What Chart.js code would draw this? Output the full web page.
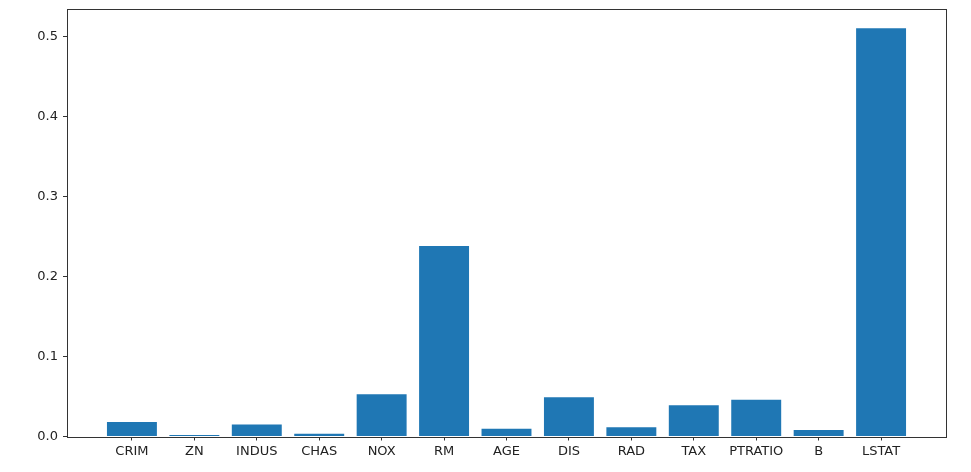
<!DOCTYPE html>
<html>
<head>
<meta charset="utf-8">
<script src="https://cdn.jsdelivr.net/npm/chart.js@4/dist/chart.umd.min.js"></script>
<style>
  html, body { margin: 0; padding: 0; background: #fff; }
  #wrap { width: 971px; height: 472px; }
</style>
</head>
<body>
<div id="wrap"><canvas id="myChart"></canvas></div>
<script>
const features = ['CRIM', 'ZN', 'INDUS', 'CHAS', 'NOX', 'RM', 'AGE', 'DIS', 'RAD', 'TAX', 'PTRATIO', 'B', 'LSTAT'];
const importance = [0.018, 0.002, 0.015, 0.0035, 0.053, 0.2385, 0.0098, 0.049, 0.0115, 0.039, 0.046, 0.008, 0.511];
const yTicks = [0, 0.1, 0.2, 0.3, 0.4, 0.5];

// outline round the plot, like the matplotlib spines
const frame = {
  id: 'frame',
  afterDraw(chart) {
    const a = chart.chartArea;
    const c = chart.ctx;
    c.save();
    c.strokeStyle = '#333';
    c.lineWidth = 1;
    c.strokeRect(Math.round(a.left) + 0.5, Math.round(a.top) + 0.5,
      Math.round(a.right - a.left), Math.round(a.bottom - a.top));
    c.restore();
  }
};

const ctx = document.getElementById('myChart');

new Chart(ctx, {
  type: 'bar',
  data: {
    datasets: [{
      data: features.map((f, i) => ({ x: i, y: importance[i] })),
      backgroundColor: '#1f77b4',
      barPercentage: 0.8,
      categoryPercentage: 1.0
    }]
  },
  options: {
    responsive: true,
    maintainAspectRatio: false,
    animation: false,
    layout: { padding: { top: 9, right: 25, left: 0, bottom: 0 } },
    plugins: { legend: { display: false }, tooltip: { enabled: false } },
    scales: {
      x: {
        type: 'linear',
        min: -1.04,
        max: 13.04,
        offset: false,
        afterFit: (s) => { s.height = 35.5; },
        afterBuildTicks: (s) => { s.ticks = features.map((f, i) => ({ value: i })); },
        grid: { offset: false, drawOnChartArea: false, drawTicks: true, tickLength: 4, color: '#333' },
        border: { display: false },
        ticks: {
          callback: (v) => features[v] || '',
          color: '#222',
          font: { family: 'DejaVu Sans', size: 13 },
          maxRotation: 0,
          autoSkip: false,
          padding: 3
        }
      },
      y: {
        min: 0,
        max: 0.535,
        afterFit: (s) => { s.width = 67; s.paddingTop = 0; s.paddingBottom = 0; },
        afterBuildTicks: (s) => { s.ticks = yTicks.map(v => ({ value: v })); },
        grid: { drawOnChartArea: false, drawTicks: true, tickLength: 4, color: '#333' },
        border: { display: false },
        ticks: {
          callback: (v) => v.toFixed(1),
          color: '#222',
          font: { family: 'DejaVu Sans', size: 13 },
          padding: 5
        }
      }
    }
  },
  plugins: [frame]
});
</script>
</body>
</html>
